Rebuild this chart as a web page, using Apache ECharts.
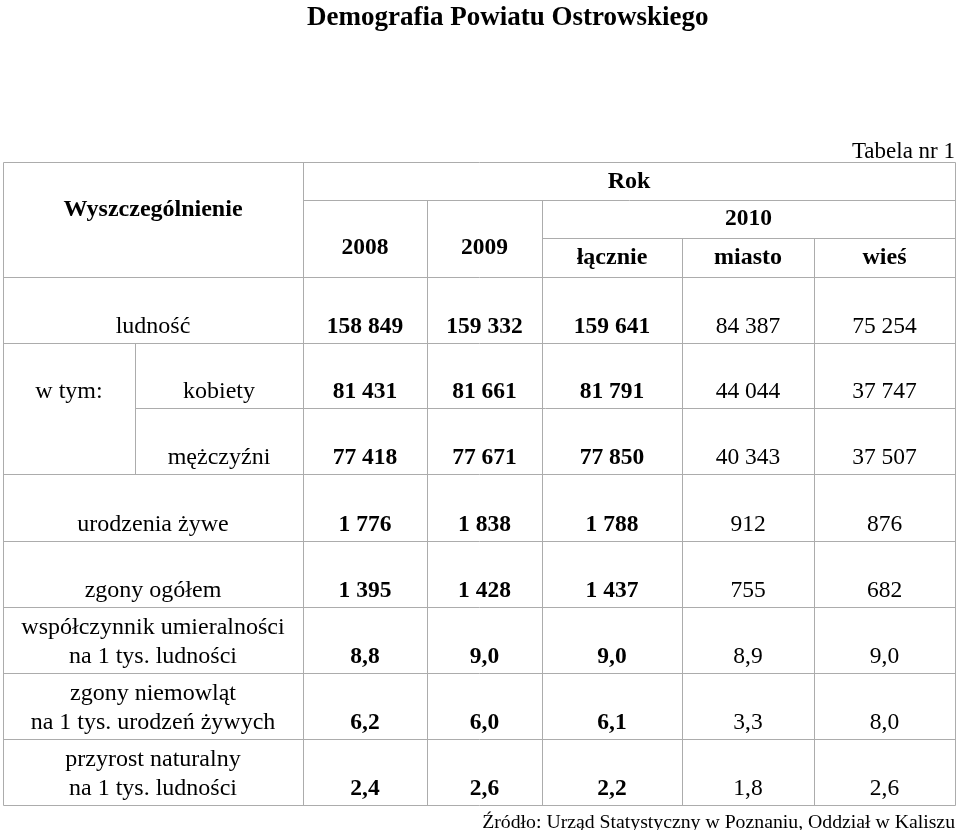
<!DOCTYPE html>
<html>
<head>
<meta charset="utf-8">
<script src="https://cdn.jsdelivr.net/npm/echarts@6/dist/echarts.min.js"></script>
<style>html,body{margin:0;padding:0;background:#fff}#c{width:960px;height:830px}</style>
</head>
<body>
<div id="c"></div>
<script>
// ---------- DATA ----------
const titleText = 'Demografia Powiatu Ostrowskiego';
const tableNo = 'Tabela nr 1';
const sourceText = 'Źródło: Urząd Statystyczny w Poznaniu, Oddział w Kaliszu';
const headFirst = 'Wyszczególnienie';
const headRok = 'Rok';
const years = ['2008', '2009'];
const year2010 = '2010';
const sub2010 = ['łącznie', 'miasto', 'wieś'];
const rowLabels = ['ludność', 'kobiety', 'mężczyźni', 'urodzenia żywe', 'zgony ogółem',
  'współczynnik umieralności\nna 1 tys. ludności',
  'zgony niemowląt\nna 1 tys. urodzeń żywych',
  'przyrost naturalny\nna 1 tys. ludności'];
const groupLabel = 'w tym:';
const rowDecimals = [0, 0, 0, 0, 0, 1, 1, 1];
const v2008 = [158849, 81431, 77418, 1776, 1395, 8.8, 6.2, 2.4];
const v2009 = [159332, 81661, 77671, 1838, 1428, 9.0, 6.0, 2.6];
const v2010total = [159641, 81791, 77850, 1788, 1437, 9.0, 6.1, 2.2];
const v2010city = [84387, 44044, 40343, 912, 755, 8.9, 3.3, 1.8];
const v2010rural = [75254, 37747, 37507, 876, 682, 9.0, 8.0, 2.6];

// ---------- LAYOUT (axis units) ----------
const colEdges = [0, 300, 424, 539, 679, 811, 952];
const subEdge = 132;
const headEdges = [0, 38, 76, 115];
const rowEdges = [115, 181, 246, 312, 379, 445, 511, 577, 643];
const lineGap = 29, bottomPad = 16;
const FONT = 'Liberation Serif';
const FS_TEXT = 24, FS_NUM = 23.5;

function fmt(v, d) {
  let s = v.toFixed(d).replace('.', ',');
  let [i, f] = s.split(',');
  i = i.replace(/\B(?=(\d{3})+(?!\d))/g, ' ');
  return f !== undefined ? i + ',' + f : i;
}
const mid = (a, b) => (a + b) / 2;

const cells = [];
function addCell(x, y, text, bold, num) { cells.push({x, y, text, bold, num: !!num}); }

// header
addCell(mid(colEdges[0], colEdges[1]), 48, headFirst, true);
addCell(mid(colEdges[1], colEdges[6]), 20, headRok, true);
years.forEach((t, i) => addCell(mid(colEdges[1 + i], colEdges[2 + i]), 86, t, true, true));
addCell(mid(colEdges[3], colEdges[6]), 57, year2010, true, true);
sub2010.forEach((t, i) => addCell(mid(colEdges[3 + i], colEdges[4 + i]), 96, t, true));

// body
const series = [v2008, v2009, v2010total, v2010city, v2010rural];
rowLabels.forEach((lab, r) => {
  const bottom = rowEdges[r + 1] - bottomPad;
  const lines = lab.split('\n');
  let lx = mid(colEdges[0], colEdges[1]);
  if (r === 1 || r === 2) lx = mid(subEdge, colEdges[1]);
  lines.forEach((ln, k) => addCell(lx, bottom - (lines.length - 1 - k) * lineGap, ln, false));
  if (r === 1) addCell(mid(colEdges[0], subEdge), bottom, groupLabel, false);
  series.forEach((arr, c) => addCell(mid(colEdges[1 + c], colEdges[2 + c]), bottom, fmt(arr[r], rowDecimals[r]), c < 3, true));
});

// grid line segments
const L = colEdges[0], R = colEdges[6], B = rowEdges[rowEdges.length - 1];
const segs = [];
segs.push([L, 0, L, B], [R, 0, R, B], [colEdges[1], 0, colEdges[1], B]);
segs.push([colEdges[2], headEdges[1], colEdges[2], B], [colEdges[3], headEdges[1], colEdges[3], B]);
segs.push([colEdges[4], headEdges[2], colEdges[4], B], [colEdges[5], headEdges[2], colEdges[5], B]);
segs.push([subEdge, rowEdges[1], subEdge, rowEdges[3]]);
segs.push([L, 0, R, 0], [colEdges[1], headEdges[1], R, headEdges[1]], [colEdges[3], headEdges[2], R, headEdges[2]]);
rowEdges.forEach((y, i) => { if (i === 2) segs.push([subEdge, y, R, y]); else segs.push([L, y, R, y]); });

const chart = echarts.init(document.getElementById('c'), null, {renderer: 'canvas'});
chart.setOption({
  backgroundColor: '#fff',
  animation: false,
  textStyle: {fontFamily: FONT},
  title: [
    {text: titleText, left: 302, top: 0, textStyle: {fontFamily: FONT, fontSize: 27, fontWeight: 'bold', color: '#000'}},
    {text: tableNo, right: 0, top: 135, textStyle: {fontFamily: FONT, fontSize: 23, fontWeight: 'normal', color: '#000'}},
    {text: sourceText, right: 0, top: 808, textStyle: {fontFamily: FONT, fontSize: 19.75, fontWeight: 'normal', color: '#000'}}
  ],
  grid: {left: 3, top: 162, width: 952, height: 643, containLabel: false},
  xAxis: {type: 'value', min: 0, max: 952, show: false},
  yAxis: {type: 'value', min: 0, max: 643, inverse: true, show: false},
  series: [
    {
      type: 'custom', silent: true, clip: false,
      data: segs,
      renderItem: function (params, api) {
        const a = api.coord([api.value(0), api.value(1)]);
        const b = api.coord([api.value(2), api.value(3)]);
        return {type: 'line', shape: {x1: Math.round(a[0]) + 0.5, y1: Math.round(a[1]) + 0.5, x2: Math.round(b[0]) + 0.5, y2: Math.round(b[1]) + 0.5},
          style: {stroke: '#acacac', lineWidth: 1}};
      }
    },
    {
      type: 'scatter', silent: true, symbol: 'circle', symbolSize: 1, clip: false,
      itemStyle: {color: 'rgba(255,255,255,0)', opacity: 1},
      label: {
        show: true, position: 'inside', fontFamily: FONT, fontSize: FS_TEXT, color: '#000',
        opacity: 1, textBorderWidth: 0, textShadowBlur: 0,
        align: 'center', verticalAlign: 'middle',
        formatter: p => cells[p.dataIndex].text
      },
      data: cells.map(c => ({value: [c.x, c.y], label: {fontWeight: c.bold ? 'bold' : 'normal', fontSize: c.num ? FS_NUM : FS_TEXT}}))
    }
  ]
});
</script>
</body>
</html>
